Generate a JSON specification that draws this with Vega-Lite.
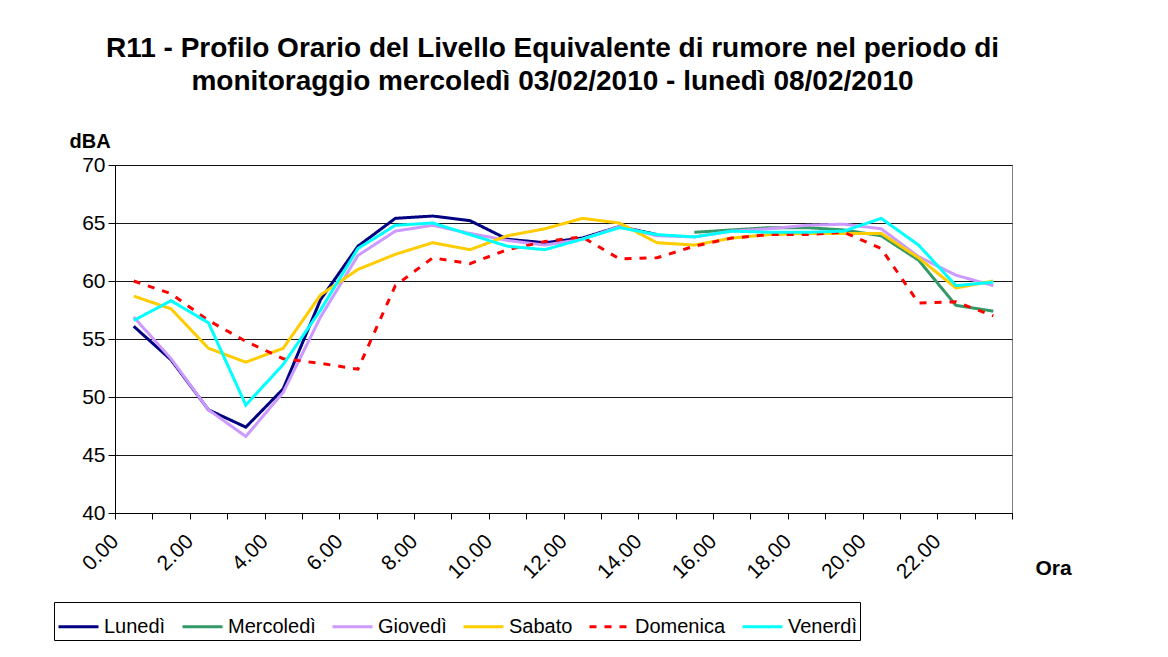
{
  "$schema": "https://vega.github.io/schema/vega-lite/v6.json",
  "width": 897,
  "height": 348,
  "autosize": {"type": "none"},
  "padding": {"left": 115, "top": 165, "right": 156, "bottom": 144},
  "background": "white",
  "title": {
    "text": ["R11 - Profilo Orario del Livello Equivalente di rumore nel periodo di", "monitoraggio mercoledì 03/02/2010 - lunedì 08/02/2010"],
    "font": "Liberation Sans",
    "fontSize": 28,
    "fontWeight": "bold",
    "lineHeight": 33,
    "anchor": "middle",
    "dx": -11,
    "dy": -31,
    "color": "black"
  },
  "config": {
    "font": "Liberation Sans",
    "view": {"stroke": "#808080", "strokeWidth": 1},
    "axis": {
      "labelFont": "Liberation Sans",
      "labelColor": "black",
      "titleFont": "Liberation Sans",
      "titleColor": "black",
      "domainColor": "black",
      "tickColor": "black",
      "domainWidth": 1,
      "tickWidth": 1
    }
  },
  "data": {
    "values": [
      {"ora": 0.5, "giorno": "Lunedì", "dBA": 56.1},
      {"ora": 1.5, "giorno": "Lunedì", "dBA": 53.2},
      {"ora": 2.5, "giorno": "Lunedì", "dBA": 48.9},
      {"ora": 3.5, "giorno": "Lunedì", "dBA": 47.4},
      {"ora": 4.5, "giorno": "Lunedì", "dBA": 50.7},
      {"ora": 5.5, "giorno": "Lunedì", "dBA": 58.4},
      {"ora": 6.5, "giorno": "Lunedì", "dBA": 63.0},
      {"ora": 7.5, "giorno": "Lunedì", "dBA": 65.4},
      {"ora": 8.5, "giorno": "Lunedì", "dBA": 65.6},
      {"ora": 9.5, "giorno": "Lunedì", "dBA": 65.2},
      {"ora": 10.5, "giorno": "Lunedì", "dBA": 63.6},
      {"ora": 11.5, "giorno": "Lunedì", "dBA": 63.3},
      {"ora": 12.5, "giorno": "Lunedì", "dBA": 63.7},
      {"ora": 13.5, "giorno": "Lunedì", "dBA": 64.7},
      {"ora": 14.5, "giorno": "Lunedì", "dBA": 64.0},
      {"ora": 15.5, "giorno": "Mercoledì", "dBA": 64.2},
      {"ora": 16.5, "giorno": "Mercoledì", "dBA": 64.4},
      {"ora": 17.5, "giorno": "Mercoledì", "dBA": 64.6},
      {"ora": 18.5, "giorno": "Mercoledì", "dBA": 64.6},
      {"ora": 19.5, "giorno": "Mercoledì", "dBA": 64.4},
      {"ora": 20.5, "giorno": "Mercoledì", "dBA": 63.9},
      {"ora": 21.5, "giorno": "Mercoledì", "dBA": 61.8},
      {"ora": 22.5, "giorno": "Mercoledì", "dBA": 57.9},
      {"ora": 23.5, "giorno": "Mercoledì", "dBA": 57.4},
      {"ora": 0.5, "giorno": "Giovedì", "dBA": 56.9},
      {"ora": 1.5, "giorno": "Giovedì", "dBA": 53.3},
      {"ora": 2.5, "giorno": "Giovedì", "dBA": 48.9},
      {"ora": 3.5, "giorno": "Giovedì", "dBA": 46.6},
      {"ora": 4.5, "giorno": "Giovedì", "dBA": 50.4},
      {"ora": 5.5, "giorno": "Giovedì", "dBA": 56.9},
      {"ora": 6.5, "giorno": "Giovedì", "dBA": 62.2},
      {"ora": 7.5, "giorno": "Giovedì", "dBA": 64.3},
      {"ora": 8.5, "giorno": "Giovedì", "dBA": 64.8},
      {"ora": 9.5, "giorno": "Giovedì", "dBA": 64.1},
      {"ora": 10.5, "giorno": "Giovedì", "dBA": 63.5},
      {"ora": 11.5, "giorno": "Giovedì", "dBA": 63.1},
      {"ora": 12.5, "giorno": "Giovedì", "dBA": 63.6},
      {"ora": 13.5, "giorno": "Giovedì", "dBA": 64.7},
      {"ora": 14.5, "giorno": "Giovedì", "dBA": 63.9},
      {"ora": 15.5, "giorno": "Giovedì", "dBA": 63.8},
      {"ora": 16.5, "giorno": "Giovedì", "dBA": 64.3},
      {"ora": 17.5, "giorno": "Giovedì", "dBA": 64.5},
      {"ora": 18.5, "giorno": "Giovedì", "dBA": 64.8},
      {"ora": 19.5, "giorno": "Giovedì", "dBA": 64.9},
      {"ora": 20.5, "giorno": "Giovedì", "dBA": 64.5},
      {"ora": 21.5, "giorno": "Giovedì", "dBA": 62.1},
      {"ora": 22.5, "giorno": "Giovedì", "dBA": 60.5},
      {"ora": 23.5, "giorno": "Giovedì", "dBA": 59.6},
      {"ora": 0.5, "giorno": "Sabato", "dBA": 58.7},
      {"ora": 1.5, "giorno": "Sabato", "dBA": 57.6},
      {"ora": 2.5, "giorno": "Sabato", "dBA": 54.2},
      {"ora": 3.5, "giorno": "Sabato", "dBA": 53.0},
      {"ora": 4.5, "giorno": "Sabato", "dBA": 54.2},
      {"ora": 5.5, "giorno": "Sabato", "dBA": 58.8},
      {"ora": 6.5, "giorno": "Sabato", "dBA": 61.0},
      {"ora": 7.5, "giorno": "Sabato", "dBA": 62.3},
      {"ora": 8.5, "giorno": "Sabato", "dBA": 63.3},
      {"ora": 9.5, "giorno": "Sabato", "dBA": 62.7},
      {"ora": 10.5, "giorno": "Sabato", "dBA": 63.9},
      {"ora": 11.5, "giorno": "Sabato", "dBA": 64.5},
      {"ora": 12.5, "giorno": "Sabato", "dBA": 65.4},
      {"ora": 13.5, "giorno": "Sabato", "dBA": 65.0},
      {"ora": 14.5, "giorno": "Sabato", "dBA": 63.3},
      {"ora": 15.5, "giorno": "Sabato", "dBA": 63.1},
      {"ora": 16.5, "giorno": "Sabato", "dBA": 63.7},
      {"ora": 17.5, "giorno": "Sabato", "dBA": 64.0},
      {"ora": 18.5, "giorno": "Sabato", "dBA": 64.1},
      {"ora": 19.5, "giorno": "Sabato", "dBA": 64.1},
      {"ora": 20.5, "giorno": "Sabato", "dBA": 64.1},
      {"ora": 21.5, "giorno": "Sabato", "dBA": 62.0},
      {"ora": 22.5, "giorno": "Sabato", "dBA": 59.4},
      {"ora": 23.5, "giorno": "Sabato", "dBA": 60.0},
      {"ora": 0.5, "giorno": "Domenica", "dBA": 60.0},
      {"ora": 1.5, "giorno": "Domenica", "dBA": 58.9},
      {"ora": 2.5, "giorno": "Domenica", "dBA": 56.6},
      {"ora": 3.5, "giorno": "Domenica", "dBA": 54.8},
      {"ora": 4.5, "giorno": "Domenica", "dBA": 53.3},
      {"ora": 5.5, "giorno": "Domenica", "dBA": 52.9},
      {"ora": 6.5, "giorno": "Domenica", "dBA": 52.4},
      {"ora": 7.5, "giorno": "Domenica", "dBA": 59.6},
      {"ora": 8.5, "giorno": "Domenica", "dBA": 62.0},
      {"ora": 9.5, "giorno": "Domenica", "dBA": 61.5},
      {"ora": 10.5, "giorno": "Domenica", "dBA": 62.7},
      {"ora": 11.5, "giorno": "Domenica", "dBA": 63.4},
      {"ora": 12.5, "giorno": "Domenica", "dBA": 63.8},
      {"ora": 13.5, "giorno": "Domenica", "dBA": 61.9},
      {"ora": 14.5, "giorno": "Domenica", "dBA": 62.0},
      {"ora": 15.5, "giorno": "Domenica", "dBA": 63.0},
      {"ora": 16.5, "giorno": "Domenica", "dBA": 63.7},
      {"ora": 17.5, "giorno": "Domenica", "dBA": 64.0},
      {"ora": 18.5, "giorno": "Domenica", "dBA": 64.0},
      {"ora": 19.5, "giorno": "Domenica", "dBA": 64.2},
      {"ora": 20.5, "giorno": "Domenica", "dBA": 62.8},
      {"ora": 21.5, "giorno": "Domenica", "dBA": 58.1},
      {"ora": 22.5, "giorno": "Domenica", "dBA": 58.2},
      {"ora": 23.5, "giorno": "Domenica", "dBA": 57.0},
      {"ora": 0.5, "giorno": "Venerdì", "dBA": 56.6},
      {"ora": 1.5, "giorno": "Venerdì", "dBA": 58.3},
      {"ora": 2.5, "giorno": "Venerdì", "dBA": 56.4},
      {"ora": 3.5, "giorno": "Venerdì", "dBA": 49.3},
      {"ora": 4.5, "giorno": "Venerdì", "dBA": 52.8},
      {"ora": 5.5, "giorno": "Venerdì", "dBA": 57.5},
      {"ora": 6.5, "giorno": "Venerdì", "dBA": 62.8},
      {"ora": 7.5, "giorno": "Venerdì", "dBA": 64.8},
      {"ora": 8.5, "giorno": "Venerdì", "dBA": 65.0},
      {"ora": 9.5, "giorno": "Venerdì", "dBA": 64.0},
      {"ora": 10.5, "giorno": "Venerdì", "dBA": 63.0},
      {"ora": 11.5, "giorno": "Venerdì", "dBA": 62.7},
      {"ora": 12.5, "giorno": "Venerdì", "dBA": 63.6},
      {"ora": 13.5, "giorno": "Venerdì", "dBA": 64.6},
      {"ora": 14.5, "giorno": "Venerdì", "dBA": 64.0},
      {"ora": 15.5, "giorno": "Venerdì", "dBA": 63.8},
      {"ora": 16.5, "giorno": "Venerdì", "dBA": 64.3},
      {"ora": 17.5, "giorno": "Venerdì", "dBA": 64.2},
      {"ora": 18.5, "giorno": "Venerdì", "dBA": 64.2},
      {"ora": 19.5, "giorno": "Venerdì", "dBA": 64.3},
      {"ora": 20.5, "giorno": "Venerdì", "dBA": 65.4},
      {"ora": 21.5, "giorno": "Venerdì", "dBA": 63.1},
      {"ora": 22.5, "giorno": "Venerdì", "dBA": 59.6},
      {"ora": 23.5, "giorno": "Venerdì", "dBA": 59.9}
    ]
  },
  "mark": {"type": "line", "strokeWidth": 3, "interpolate": "linear"},
  "encoding": {
    "x": {
      "field": "ora",
      "type": "quantitative",
      "scale": {"domain": [0, 24], "nice": false, "zero": false},
      "axis": {
        "values": [0,1,2,3,4,5,6,7,8,9,10,11,12,13,14,15,16,17,18,19,20,21,22,23,24],
        "labelExpr": "datum.value % 2 == 0 && datum.value < 24 ? format(datum.value, '.2f') : ''",
        "labelAngle": -45,
        "labelAlign": "right",
        "labelBaseline": "middle",
        "labelFontSize": 21,
        "labelPadding": 19,
        "labelDx": 4,
        "labelOverlap": false,
        "labelFlush": false,
        "tickSize": 6,
        "grid": false,
        "title": "Ora",
        "titleFontSize": 21,
        "titleFontWeight": "bold",
        "titleX": 938,
        "titleY": 61,
        "titleAlign": "center",
        "titleBaseline": "alphabetic"
      }
    },
    "y": {
      "field": "dBA",
      "type": "quantitative",
      "scale": {"domain": [40, 70], "nice": false, "zero": false},
      "axis": {
        "values": [40, 45, 50, 55, 60, 65, 70],
        "labelFontSize": 21,
        "labelPadding": 3,
        "tickSize": 7,
        "grid": true,
        "gridColor": "black",
        "gridWidth": 1,
        "gridOpacity": 0.9,
        "title": "dBA",
        "titleAngle": 0,
        "titleFontSize": 20,
        "titleFontWeight": "bold",
        "titleX": -46,
        "titleY": -18,
        "titleAlign": "left",
        "titleBaseline": "alphabetic"
      }
    },
    "color": {
      "field": "giorno",
      "type": "nominal",
      "sort": ["Lunedì", "Mercoledì", "Giovedì", "Sabato", "Domenica", "Venerdì"],
      "scale": {
        "domain": ["Lunedì", "Mercoledì", "Giovedì", "Sabato", "Domenica", "Venerdì"],
        "range": ["#000080", "#339966", "#CC99FF", "#FFCC00", "#FF0000", "#00FFFF"]
      },
      "legend": {
        "title": null,
        "orient": "none",
        "legendX": -61,
        "legendY": 437,
        "direction": "horizontal",
        "columns": 6,
        "strokeColor": "black",
        "padding": 3,
        "symbolType": "stroke",
        "symbolSize": 1600,
        "symbolStrokeWidth": 3,
        "labelFontSize": 20,
        "labelFont": "Liberation Sans",
        "labelColor": "black",
        "labelOffset": 4,
        "columnPadding": 10,
        "fillColor": "white"
      }
    },
    "strokeDash": {
      "field": "giorno",
      "type": "nominal",
      "sort": ["Lunedì", "Mercoledì", "Giovedì", "Sabato", "Domenica", "Venerdì"],
      "scale": {
        "domain": ["Lunedì", "Mercoledì", "Giovedì", "Sabato", "Domenica", "Venerdì"],
        "range": [[1, 0], [1, 0], [1, 0], [1, 0], [7, 8], [1, 0]]
      },
      "legend": {
        "title": null,
        "orient": "none",
        "legendX": -61,
        "legendY": 437,
        "direction": "horizontal",
        "columns": 6,
        "strokeColor": "black",
        "padding": 3,
        "symbolType": "stroke",
        "symbolSize": 1600,
        "symbolStrokeWidth": 3,
        "labelFontSize": 20,
        "labelFont": "Liberation Sans",
        "labelColor": "black",
        "labelOffset": 4,
        "columnPadding": 10,
        "fillColor": "white"
      }
    }
  }
}
